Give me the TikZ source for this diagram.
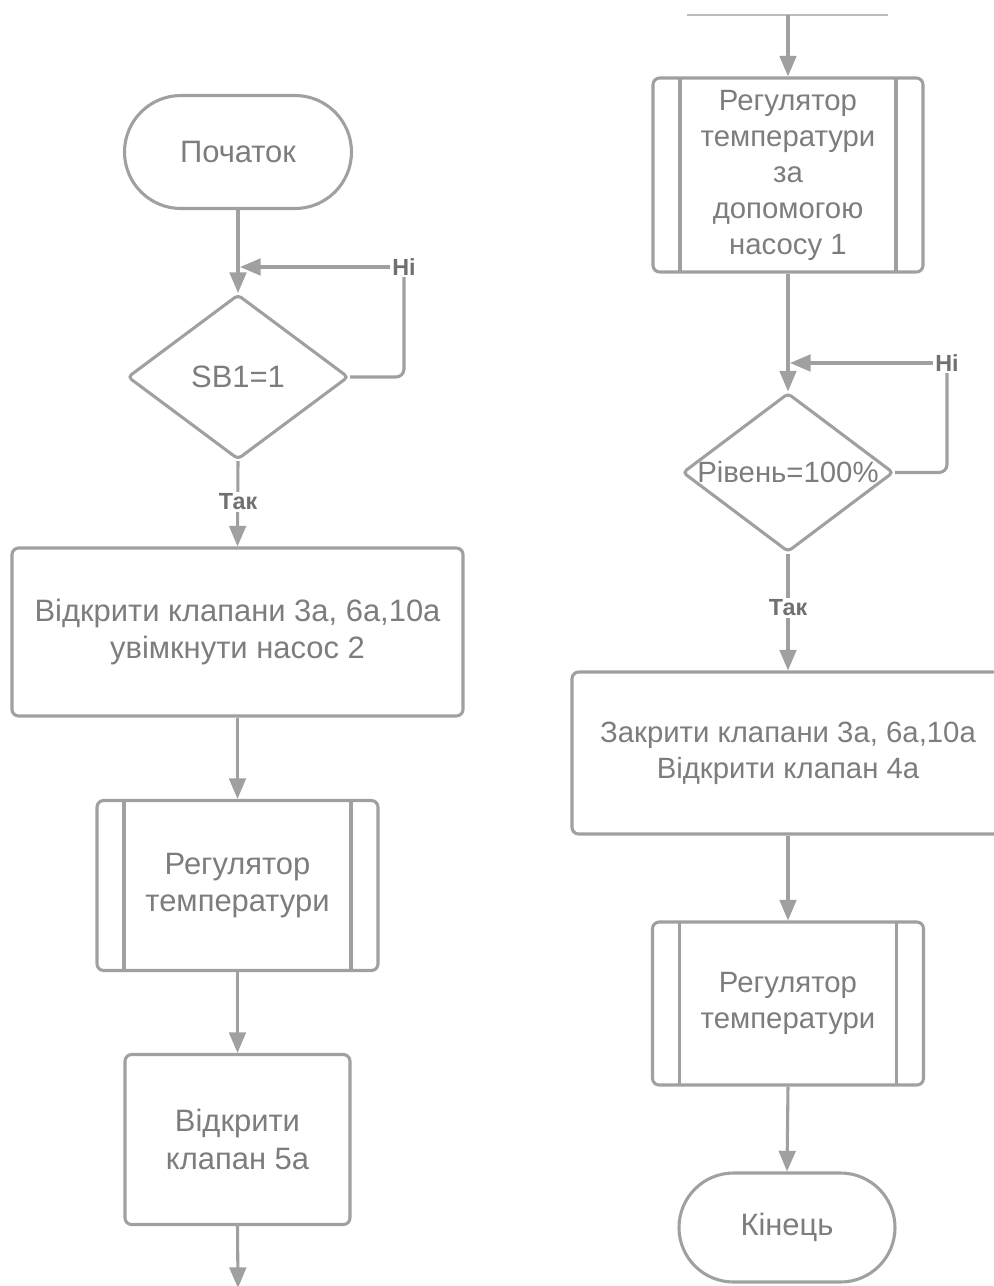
\documentclass[tikz,border=0pt]{standalone}
\usepackage{fontspec}
\setmainfont{Liberation Sans}
\usetikzlibrary{arrows.meta,shapes.geometric,shapes.misc}
\definecolor{linegray}{RGB}{160,160,160}
\definecolor{textgray}{RGB}{125,125,125}
\definecolor{labgray}{RGB}{112,112,112}
\tikzset{
  base/.style={draw=linegray, line width=2.3pt, text=textgray,
    font=\fontsize{23.2}{28}\selectfont, align=center, inner sep=0pt},
  smalltext/.style={font=\fontsize{22}{27}\selectfont},
  proc/.style={base, rectangle, rounded corners=5pt},
  term/.style={base, rounded rectangle},
  decis/.style={base, diamond, rounded corners=3pt},
  predef/.style={proc, path picture={
    \draw[linegray, line width=2.3pt]
      ([xshift=20.25pt]path picture bounding box.north west) -- ([xshift=20.25pt]path picture bounding box.south west)
      ([xshift=-20.25pt]path picture bounding box.north east) -- ([xshift=-20.25pt]path picture bounding box.south east);}},
  txt/.style={text=textgray, font=\fontsize{23.2}{28}\selectfont, align=center, inner sep=0pt},
  conn/.style={draw=linegray, line width=2.3pt},
  arr/.style={conn, -{Triangle[length=15.5pt,width=12.5pt]}},
  lab/.style={text=labgray, font=\bfseries\fontsize{17.5}{19}\selectfont, fill=white, inner sep=1.5pt}
}
\begin{document}
\begin{tikzpicture}[x=0.75pt,y=-0.75pt]
\useasboundingbox (0,0) rectangle (994,1286);
\clip (0,0) rectangle (994,1286);
\fill[white] (0,0) rectangle (994,1286);

% left column
\node[term, minimum width=170.25pt, minimum height=84.75pt] (start) at (238,152) {Початок};
\node[decis, minimum width=165.75pt, minimum height=123.75pt] (d1) at (238,377) {};
\node[txt] (d1t) at (d1) {SB1=1};
\node[proc, minimum width=338.25pt, minimum height=126pt] (b1) at (237.5,632) {Відкрити клапани 3а, 6а,10а\\увімкнути насос 2};
\node[predef, minimum width=210.75pt, minimum height=127.5pt] (p1) at (237.5,885.5) {Регулятор\\температури};
\node[proc, minimum width=168.75pt, minimum height=127.5pt] (b2) at (237.5,1139.5) {Відкрити\\клапан 5а};
\coordinate (cbot) at (238,1288);
\coordinate (n1) at (404,267);
\coordinate (h1) at (240,267);

% right column
\coordinate (tl) at (687,15);
\coordinate (tr) at (888,15);
\coordinate (ctop) at (788,15);
\node[predef, smalltext, minimum width=202.5pt, minimum height=145.5pt] (p2) at (788,175) {Регулятор\\температури\\за\\допомогою\\насосу 1};
\node[decis, minimum width=158.25pt, minimum height=119.25pt] (d2) at (788,472.5) {};
\node[txt, smalltext] (d2t) at (d2) {Рівень=100\%};
\node[proc, smalltext, minimum width=324pt, minimum height=121.5pt] (b3) at (788,753) {Закрити клапани 3а, 6а,10а\\Відкрити клапан 4а};
\node[predef, smalltext, minimum width=203.25pt, minimum height=122.25pt] (p3) at (788,1003.5) {Регулятор\\температури};
\node[term, minimum width=162pt, minimum height=81.75pt] (end) at (787,1227.5) {Кінець};
\coordinate (n2) at (947,363);
\coordinate (h2) at (790,363);

% connectors left
\draw[arr] (start.south) -- (d1.north);
\draw[conn, rounded corners=6pt] (d1.east) -| (n1);
\draw[arr] (n1) -- (h1);
\draw[arr] (d1.south) -- (b1.north);
\draw[arr] (b1.south) -- (p1.north);
\draw[arr] (p1.south) -- (b2.north);
\draw[arr] (b2.south) -- (cbot);

% connectors right
\draw[draw=linegray!70, line width=1pt] (tl) -- (tr);
\draw[arr] (ctop) -- (p2.north);
\draw[arr] (p2.south) -- (d2.north);
\draw[conn, rounded corners=6pt] (d2.east) -| (n2);
\draw[arr] (n2) -- (h2);
\draw[arr] (d2.south) -- (b3.north);
\draw[arr] (b3.south) -- (p3.north);
\draw[arr] (p3.south) -- (end.north);

% labels
\node[lab] (l1) at (n1) {Ні};
\node[lab] (l2) at (238,502) {Так};
\node[lab] (l3) at (n2) {Ні};
\node[lab] (l4) at (788,608) {Так};
\end{tikzpicture}
\end{document}
